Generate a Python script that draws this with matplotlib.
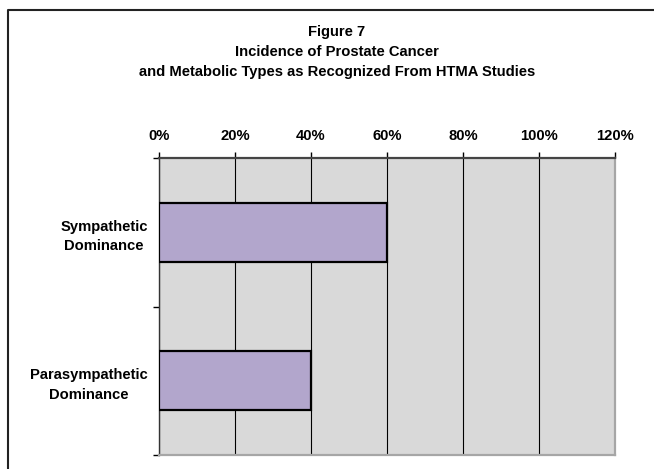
import matplotlib
matplotlib.use("Agg")
import matplotlib.pyplot as plt
from matplotlib.lines import Line2D
from matplotlib.ticker import PercentFormatter

plt.rcParams['font.family'] = ['Liberation Sans', 'DejaVu Sans']
plt.rcParams['font.weight'] = 'bold'
plt.rcParams['font.size'] = 10.6

# data
categories = ['Sympathetic\nDominance', 'Parasympathetic\nDominance']
incidence = [0.60, 0.40]
x_ticks = [0, 0.2, 0.4, 0.6, 0.8, 1.0, 1.2]
title_lines = ['Figure 7',
               'Incidence of Prostate Cancer',
               'and Metabolic Types as Recognized From HTMA Studies']

W, H = 654, 469
fig = plt.figure(figsize=(W / 100, H / 100), dpi=100)

# outer chart frame (only top and left edges fall inside the image)
fig.add_artist(Line2D([8 / W, 8 / W, 1.0], [0.0, 1 - 10 / H, 1 - 10 / H],
                      transform=fig.transFigure, color='#222222', lw=1.5))

# title, three centred lines
for i, line in enumerate(title_lines):
    fig.text(337 / W, 1 - (32 + 20 * i) / H, line, ha='center', va='center',
             fontweight='bold')

ax = fig.add_axes([159 / W, (H - 455) / H, 456 / W, 297 / H])
ax.set_facecolor('#D9D9D9')

ypos = list(range(len(categories)))
ax.barh(ypos, incidence, height=0.4, color='#B2A6CC', edgecolor='black',
        linewidth=1.6, zorder=3)

ax.set_xlim(0, 1.2)
ax.set_ylim(len(categories) - 0.5, -0.5)

ax.xaxis.tick_top()
ax.set_xticks(x_ticks)
ax.xaxis.set_major_formatter(PercentFormatter(1.0, decimals=0))
ax.tick_params(axis='x', direction='out', length=4, width=1, pad=7,
               colors='black')
ax.grid(axis='x', color='black', lw=0.8, zorder=1)

ax.set_yticks(ypos)
ax.set_yticklabels(categories, multialignment='center', linespacing=1.5)
ax.set_yticks([-0.5, 0.5, 1.5], minor=True)
ax.tick_params(axis='y', which='major', length=0, pad=8)
ax.tick_params(axis='y', which='minor', direction='out', length=4, width=1)

ax.spines['top'].set_color('#444444')
ax.spines['top'].set_linewidth(1.6)
ax.spines['left'].set_color('#333333')
ax.spines['left'].set_linewidth(1.0)
for side in ('right', 'bottom'):
    ax.spines[side].set_color('#A6A6A6')
    ax.spines[side].set_linewidth(1.6)

fig.savefig('out.png', dpi=100)
